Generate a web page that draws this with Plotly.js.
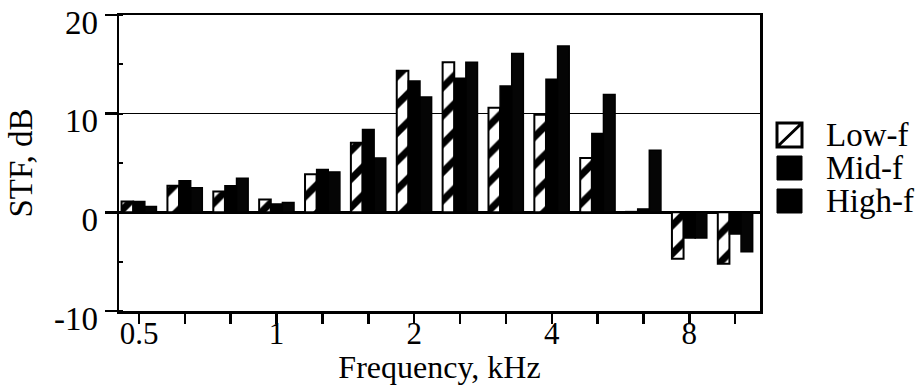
<!DOCTYPE html>
<html>
<head>
<meta charset="utf-8">
<script src="https://cdn.plot.ly/plotly-3.0.1.min.js"></script>
<style>
  html, body { margin: 0; padding: 0; background: #fff; }
  #chart { width: 916px; height: 385px; }
</style>
</head>
<body>
<div id="chart"></div>
<script>
// Third-octave band centre frequencies (kHz)
const categories = ['0.5', '0.63', '0.8', '1', '1.25', '1.6', '2', '2.5', '3.15', '4', '5', '6.3', '8', '10'];
const xTickText = ['0.5', '', '', '1', '', '', '2', '', '', '4', '', '', '8', ''];

// STF values (dB) per series
const lowF  = [1.1, 2.7, 2.1, 1.3, 3.85, 7.05, 14.35, 15.2, 10.6, 9.9, 5.5, 0.05, -4.7, -5.2];
const midF  = [1.1, 3.2, 2.7, 0.85, 4.35, 8.4, 13.3, 13.6, 12.8, 13.5, 8.0, 0.35, -2.6, -2.2];
const highF = [0.6, 2.5, 3.45, 1.0, 4.1, 5.5, 11.7, 15.2, 16.1, 16.85, 11.95, 6.3, -2.6, -4.0];

const seriesNames = ['Low-f', 'Mid-f', 'High-f'];
const yTickVals = [-10, 0, 10, 20];
const yTickText = ['-10', '0', '10', '20'];

const FONT = 'Liberation Serif, Times New Roman, serif';
const FS = 33;

const traces = [
  {
    type: 'bar', name: seriesNames[0], x: categories, y: lowF,
    marker: {
      color: 'white',
      line: {color: 'black', width: 2},
      pattern: {shape: '/', fgcolor: 'black', bgcolor: 'white', size: 20, solidity: 0.35, fillmode: 'replace'}
    },
    showlegend: false
  },
  {
    type: 'bar', name: seriesNames[1], x: categories, y: midF,
    marker: {color: 'black', line: {color: 'black', width: 1.5}},
    showlegend: false
  },
  {
    type: 'bar', name: seriesNames[2], x: categories, y: highF,
    marker: {color: '#050505', line: {color: 'black', width: 1.5}},
    showlegend: false
  }
];

// Legend drawn as shapes + annotations so the swatches match the reference size
function px2x(px) { return (px - 119) / 641; }
function px2y(py) { return (311 - py) / 296; }
const sx0 = px2x(777), sx1 = px2x(802);
const swatchTops = [123, 156, 189];
const swatchH = 24;
const shapes = [];
const annotations = [];
seriesNames.forEach(function (name, i) {
  const y1 = px2y(swatchTops[i]);
  const y0 = px2y(swatchTops[i] + swatchH);
  if (i === 0) {
    shapes.push({
      type: 'path', xref: 'paper', yref: 'paper',
      path: 'M' + sx0 + ',' + y0 + ' L' + sx1 + ',' + y0 + ' L' + sx1 + ',' + y1 + ' L' + sx0 + ',' + y1 + ' Z M' + sx0 + ',' + y0 + ' L' + sx1 + ',' + y1,
      line: {color: 'black', width: 3}, fillcolor: 'white'
    });
  } else {
    shapes.push({
      type: 'rect', xref: 'paper', yref: 'paper',
      x0: sx0, x1: sx1, y0: y0, y1: y1,
      line: {color: 'black', width: 1}, fillcolor: 'black'
    });
  }
  annotations.push({
    xref: 'paper', yref: 'paper', x: px2x(824), y: (y0 + y1) / 2,
    xanchor: 'left', yanchor: 'middle', showarrow: false,
    text: name, font: {family: FONT, size: FS, color: 'black'}
  });
});

const layout = {
  width: 916, height: 385,
  margin: {l: 119, r: 156, t: 15, b: 74, pad: 0},
  paper_bgcolor: 'white', plot_bgcolor: 'white',
  font: {family: FONT, size: FS, color: 'black'},
  barmode: 'group', bargap: 0.24, bargroupgap: 0,
  showlegend: false,
  xaxis: {
    type: 'category',
    range: [-0.436, 13.54],
    tickmode: 'array', tickvals: categories, ticktext: xTickText,
    ticks: 'outside', ticklen: 10, tickwidth: 2.5, tickcolor: 'black',
    ticklabelstandoff: -17,
    showline: true, linecolor: 'black', linewidth: 2.5, mirror: true,
    showgrid: false, zeroline: false,
    tickfont: {family: FONT, size: 31, color: 'black'},
    title: {text: 'Frequency, kHz', font: {family: FONT, size: 32, color: 'black'}, standoff: 5}
  },
  yaxis: {
    range: [-10, 20],
    tickmode: 'array', tickvals: yTickVals, ticktext: yTickText,
    ticks: 'outside', ticklen: 12, tickwidth: 2.5, tickcolor: 'black',
    ticklabelshift: 7,
    ticklabeloverflow: 'allow',
    minor: {dtick: 5, ticks: 'inside', ticklen: 4, tickwidth: 2, tickcolor: 'black', showgrid: false},
    showline: true, linecolor: 'black', linewidth: 2.5, mirror: true,
    showgrid: true, gridcolor: 'black', gridwidth: 1.5,
    zeroline: true, zerolinecolor: 'black', zerolinewidth: 2.5,
    tickfont: {family: FONT, size: FS, color: 'black'},
    title: {text: 'STF, dB', font: {family: FONT, size: FS, color: 'black'}, standoff: 12}
  },
  shapes: shapes,
  annotations: annotations
};

Plotly.newPlot('chart', traces, layout, {displayModeBar: false, staticPlot: true});
</script>
</body>
</html>
